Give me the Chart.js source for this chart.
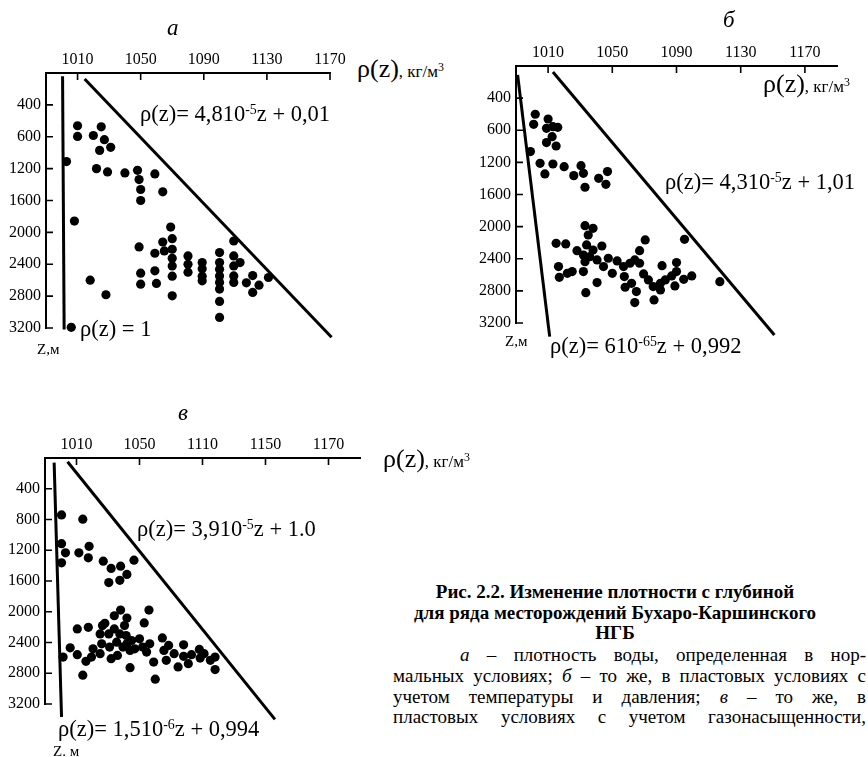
<!DOCTYPE html>
<html>
<head>
<meta charset="utf-8">
<script src="https://cdn.jsdelivr.net/npm/chart.js@4/dist/chart.umd.min.js"></script>
<style>
  html, body { margin: 0; padding: 0; background: #fff; }
  body { width: 868px; height: 757px; position: relative; overflow: hidden; font-family: 'Liberation Serif', 'Times New Roman', 'DejaVu Serif', serif; color: #000; }
  canvas { position: absolute; }
  .t { position: absolute; white-space: nowrap; line-height: 1; }
  .eq { font-size: 22.5px; }
  .eq sup { font-size: 0.62em; vertical-align: 0.5em; line-height: 0; }
  .ttl { font-size: 23px; font-style: italic; }
  .unit { font-size: 26px; }
  .unit small { font-size: 17px; }
  .unit sup { font-size: 0.7em; vertical-align: 0.5em; line-height: 0; }
  .zl { font-size: 15px; }
  .cap { position: absolute; left: 393px; width: 473px; font-size: 19px; line-height: 20px; white-space: nowrap; }
  .cap.b { font-weight: bold; text-align: center; left: 385px; width: 460px; }
  .cap.j { text-align: justify; text-align-last: justify; white-space: normal; }
</style>
</head>
<body>
<canvas id="chartA"></canvas>
<canvas id="chartB"></canvas>
<canvas id="chartC"></canvas>

<!-- panel titles, units, equations -->
<div class="t ttl" style="left:167px; top:16px;">а</div>
<div class="t ttl" style="left:723px; top:8px;">б</div>
<div class="t ttl" style="left:178px; top:401px;">в</div>

<div class="t unit" style="left:357px; top:56px;">ρ(z)<small>, кг/м<sup>3</sup></small></div>
<div class="t unit" style="left:763px; top:71px;">ρ(z)<small>, кг/м<sup>3</sup></small></div>
<div class="t unit" style="left:383px; top:446px;">ρ(z)<small>, кг/м<sup>3</sup></small></div>

<div class="t eq" style="left:140px; top:103px;">ρ(z)= 4,810<sup>-5</sup>z + 0,01</div>
<div class="t eq" style="left:80px; top:318px;">ρ(z) = 1</div>
<div class="t zl" style="left:37px; top:342px;">Z,м</div>

<div class="t eq" style="left:665px; top:171px;">ρ(z)= 4,310<sup>-5</sup>z + 1,01</div>
<div class="t eq" style="left:550px; top:335px;">ρ(z)= 610<sup>-65</sup>z + 0,992</div>
<div class="t zl" style="left:505px; top:334px;">Z,м</div>

<div class="t eq" style="left:137px; top:518px;">ρ(z)= 3,910<sup>-5</sup>z + 1.0</div>
<div class="t eq" style="left:58px; top:718px;">ρ(z)= 1,510<sup>-6</sup>z + 0,994</div>
<div class="t zl" style="left:53px; top:744px;">Z. м</div>

<!-- caption -->
<div class="cap b" style="top:582px;">Рис. 2.2. Изменение плотности с глубиной</div>
<div class="cap b" style="top:603px;">для ряда месторождений Бухаро-Каршинского</div>
<div class="cap b" style="top:623px;">НГБ</div>
<div class="cap j" style="top:645px; left:460px; width:406px;"><i>а</i> – плотность воды, определенная в нор-</div>
<div class="cap j" style="top:666px;">мальных условиях; <i>б</i> – то же, в пластовых условиях с</div>
<div class="cap j" style="top:687px;">учетом температуры и давления; <i>в</i> – то же, в</div>
<div class="cap j" style="top:707px;">пластовых условиях с учетом газонасыщенности,</div>

<script>
// axis ticks (positions) and the labels printed at them
const xTickValues = [1010, 1050, 1090, 1130, 1170];
const xLabelsA = ['1010', '1050', '1090', '1130', '1170'];
const xLabelsB = ['1010', '1050', '1090', '1130', '1170'];
const xLabelsC = ['1010', '1050', '1110', '1150', '1170'];
const yTickValues = [400, 800, 1200, 1600, 2000, 2400, 2800, 3200];
const yLabelsA = ['400', '600', '1200', '1600', '2000', '2400', '2800', '3200'];
const yLabelsB = ['400', '600', '1200', '1600', '2000', '2400', '2800', '3200'];
const yLabelsC = ['400', '800', '1200', '1600', '2000', '2400', '2800', '3200'];

// panel а: density (kg/m3) and depth (m)
const rhoA = [1003, 1010, 1010, 1025, 1020, 1027, 1024, 1031, 1022, 1029, 1040, 1048, 1049, 1050, 1050, 1059, 1064,
  1008, 1018, 1028, 1006, 1049, 1050, 1050, 1059, 1059, 1060, 1064, 1065, 1069, 1070, 1070, 1070, 1070, 1070, 1070,
  1080, 1080, 1080, 1089, 1089, 1089, 1089, 1100, 1100, 1100, 1100, 1100, 1100, 1100, 1100, 1109, 1109, 1109, 1109,
  1109, 1113, 1121, 1117, 1121, 1125, 1131];
const depthA = [1112, 662, 796, 675, 784, 837, 971, 933, 1200, 1241, 1254, 1221, 1337, 1462, 1600, 1266, 1491,
  1858, 2600, 2783, 3191, 2183, 2512, 2650, 2262, 2483, 2641, 2121, 2233, 1933, 2079, 2212, 2325, 2421, 2550, 2796,
  2296, 2400, 2500, 2379, 2458, 2550, 2608, 2254, 2379, 2462, 2546, 2629, 2712, 2867, 3067, 2108, 2296, 2421, 2546,
  2629, 2379, 2542, 2633, 2754, 2662, 2566];

// panel б
const rhoB = [1002, 1001, 999, 1010, 1009, 1012.5, 1009, 1015, 1016, 1013, 1005, 1008, 1013, 1020, 1026, 1030.5,
  1032, 1033, 1041.5, 1047, 1046, 1033, 1038, 1035, 1034, 1028, 1032, 1015, 1021, 1043.5, 1038, 1036, 1040.5, 1033,
  1047.5, 1044.5, 1053, 1057, 1061, 1064, 1067, 1070.5, 1067, 1057.5, 1062, 1058, 1065, 1064, 1069.5, 1072.5, 1075.5,
  1080, 1076, 1080, 1083, 1087, 1081, 1090, 1090, 1089, 1094.5, 1099.5, 1095, 1117, 1025, 1022, 1032, 1016.5, 1017,
  1033.5, 1040.5, 1057, 1050];
const depthB = [601, 726, 1066, 660, 776, 880, 954, 996, 763, 755, 1212, 1344, 1220, 1253, 1365, 1241, 1336, 1510,
  1398, 1315, 1473, 1988, 2021, 2104, 2228, 2299, 2353, 2208, 2216, 2241, 2291, 2374, 2415, 2436, 2394, 2498, 2427,
  2498, 2456, 2415, 2299, 2166, 2456, 2622, 2706, 2755, 2809, 2946, 2589, 2664, 2747, 2706, 2913, 2789, 2664, 2614,
  2486, 2448, 2560, 2738, 2656, 2614, 2158, 2685, 2560, 2581, 2560, 2498, 2631, 2822, 2697, 3270, 2581];

// panel в (density on the panel's own printed scale)
const rhoC = [1000.5, 1014, 1000.5, 1003, 1000.5, 1011.5, 1018, 1017.5, 1027, 1032, 1038, 1042, 1037.5, 1030.5,
  1046.5, 1038, 1056, 1053, 1042, 1034, 1010.5, 1017.5, 1026.5, 1001.5, 1006, 1010.5, 1016, 1014, 1020.5, 1019.5,
  1025, 1026, 1025, 1028, 1030.5, 1031, 1032, 1034, 1035.5, 1036, 1037.5, 1039.5, 1040.5, 1041.5, 1042, 1044, 1045,
  1047, 1050, 1052, 1056.5, 1054.5, 1059, 1060, 1044, 1064.5, 1065.5, 1068.5, 1067, 1072, 1074.5, 1078, 1078, 1081,
  1083, 1088, 1088.5, 1091, 1095, 1098, 1098];
const depthC = [740, 796, 1114, 1234, 1364, 1234, 1149, 1299, 1342, 1437, 1407, 1514, 1591, 1621, 1329, 1978, 1978,
  2146, 2082, 2052, 2223, 2202, 2180, 2589, 2469, 2559, 2645, 2825, 2482, 2589, 2288, 2417, 2546, 2150, 2288, 2460,
  2610, 2223, 2396, 2568, 2288, 2460, 2180, 2309, 2417, 2503, 2374, 2482, 2352, 2460, 2417, 2525, 2654, 2877, 2727,
  2340, 2503, 2438, 2632, 2546, 2718, 2430, 2580, 2675, 2559, 2490, 2602, 2546, 2632, 2589, 2752];

// straight lines, end points [rho, depth]
const lineA1Rho = [1000.5, 1001.5], lineA1Depth = [40, 3220];
const lineA2Rho = [1014.5, 1171], lineA2Depth = [75, 3316];
const lineB1Rho = [991, 1011], lineB1Depth = [110, 3370];
const lineB2Rho = [1013, 1151], lineB2Depth = [75, 3350];
const lineC1Rho = [995.8, 1000.5], lineC1Depth = [60, 3370];
const lineC2Rho = [1004.3, 1136], lineC2Depth = [48, 3400];

const pairs = (xs, ys) => xs.map((x, i) => ({ x: x, y: ys[i] }));

// inward pointing tick marks on both axes
const innerTicks = {
  id: 'innerTicks',
  afterDraw(chart) {
    const { ctx, chartArea, scales } = chart;
    ctx.save();
    ctx.strokeStyle = '#000';
    ctx.lineWidth = 1.6;
    ctx.beginPath();
    scales.x.ticks.forEach(t => {
      const px = scales.x.getPixelForValue(t.value);
      ctx.moveTo(px, chartArea.top);
      ctx.lineTo(px, chartArea.top + 7);
    });
    scales.y.ticks.forEach(t => {
      const py = scales.y.getPixelForValue(t.value);
      ctx.moveTo(chartArea.left, py);
      ctx.lineTo(chartArea.left + 7, py);
    });
    ctx.stroke();
    ctx.restore();
  }
};

function buildPanel(id, area, xMax, xLabels, yLabels, rho, depth, lines) {
  const canvas = document.getElementById(id);
  const padL = 60, padT = 40, padR = 25, padB = 25;
  canvas.width = area.right - area.left + padL + padR;
  canvas.height = area.bottom - area.top + padT + padB;
  canvas.style.left = (area.left - padL) + 'px';
  canvas.style.top = (area.top - padT) + 'px';

  const datasets = [{
    data: pairs(rho, depth),
    backgroundColor: '#000',
    pointRadius: 4.6,
    pointBorderWidth: 0,
    showLine: false,
    clip: false
  }];
  lines.forEach(l => datasets.push({
    data: pairs(l[0], l[1]),
    borderColor: '#000',
    borderWidth: 3,
    pointRadius: 0,
    showLine: true,
    clip: false
  }));

  const tickFont = { family: "'Liberation Serif', 'Times New Roman', serif", size: 16 };
  return new Chart(canvas, {
    type: 'scatter',
    data: { datasets },
    plugins: [innerTicks],
    options: {
      responsive: false,
      animation: false,
      layout: { padding: { left: 0, top: 0, right: padR, bottom: padB } },
      plugins: { legend: { display: false }, tooltip: { enabled: false } },
      scales: {
        x: {
          type: 'linear', position: 'top', min: 990, max: xMax,
          afterBuildTicks: s => { s.ticks = xTickValues.map(v => ({ value: v })); },
          afterFit: s => { s.height = padT; },
          ticks: {
            color: '#000', font: tickFont, padding: 4, maxRotation: 0, autoSkip: false,
            callback: v => xLabels[xTickValues.indexOf(v)]
          },
          grid: { display: true, drawOnChartArea: false, drawTicks: false },
          border: { display: true, color: '#000', width: 2 }
        },
        y: {
          type: 'linear', position: 'left', reverse: true, min: 0, max: 3200,
          afterBuildTicks: s => { s.ticks = yTickValues.map(v => ({ value: v })); },
          afterFit: s => { s.width = padL; },
          ticks: {
            color: '#000', font: tickFont, padding: 5, autoSkip: false,
            callback: v => yLabels[yTickValues.indexOf(v)]
          },
          grid: { display: true, drawOnChartArea: false, drawTicks: false },
          border: { display: true, color: '#000', width: 2 }
        }
      }
    }
  });
}

buildPanel('chartA', { left: 46, top: 73, right: 330, bottom: 328 }, 1170, xLabelsA, yLabelsA, rhoA, depthA,
  [[lineA1Rho, lineA1Depth], [lineA2Rho, lineA2Depth]]);
buildPanel('chartB', { left: 516, top: 66, right: 837, bottom: 323 }, 1190, xLabelsB, yLabelsB, rhoB, depthB,
  [[lineB1Rho, lineB1Depth], [lineB2Rho, lineB2Depth]]);
buildPanel('chartC', { left: 45, top: 458, right: 360, bottom: 704 }, 1190, xLabelsC, yLabelsC, rhoC, depthC,
  [[lineC1Rho, lineC1Depth], [lineC2Rho, lineC2Depth]]);
</script>
</body>
</html>
